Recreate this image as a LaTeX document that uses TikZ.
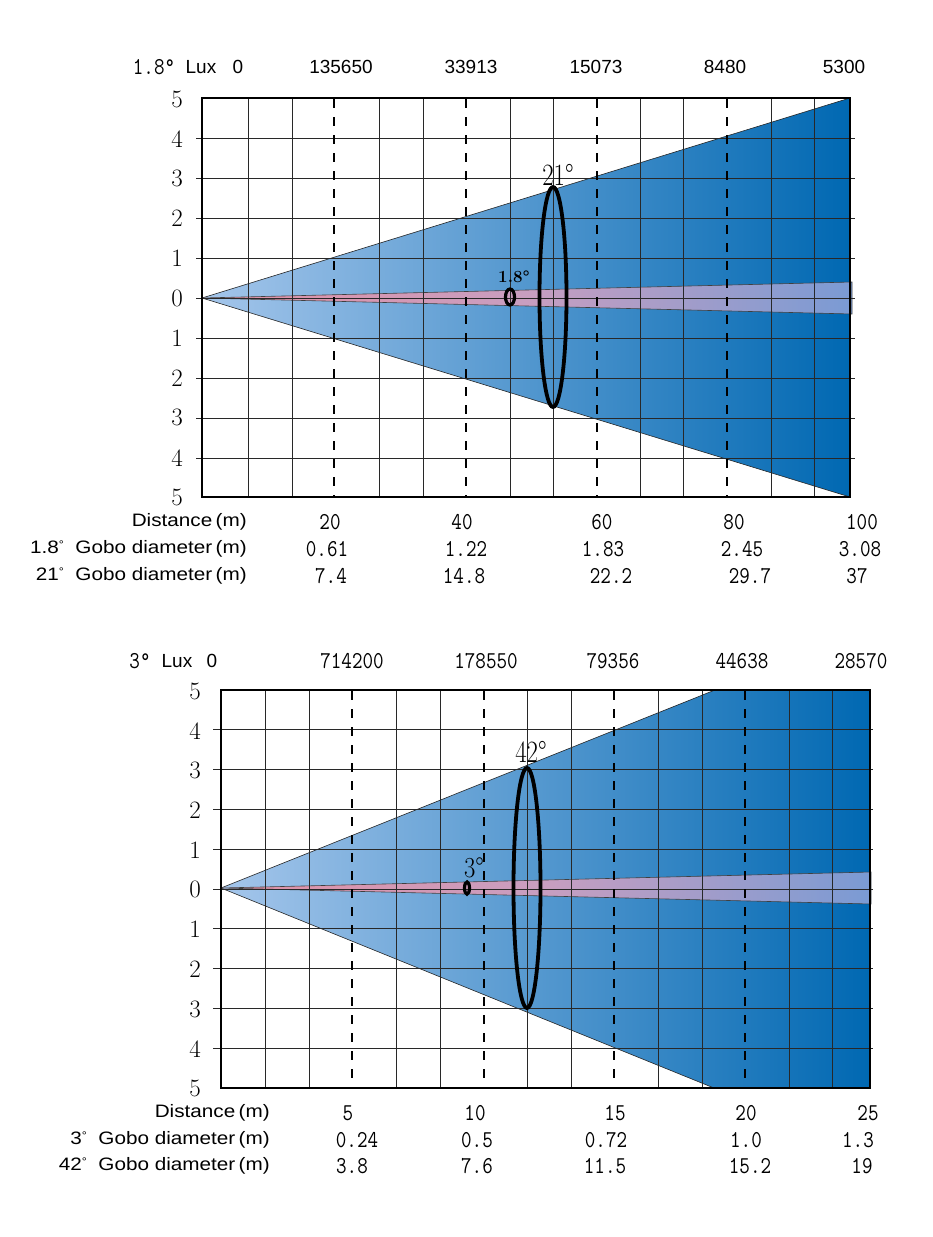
\documentclass[tikz,border=0pt]{standalone}
\usepackage{fontspec}
\newfontfamily\arial{Liberation Sans}
\definecolor{coneL}{RGB}{165,198,235}
\definecolor{coneR}{RGB}{0,104,178}
\definecolor{beamL}{RGB}{226,145,165}
\definecolor{beamM}{RGB}{200,158,192}
\definecolor{beamR}{RGB}{122,155,212}
\definecolor{gridc}{RGB}{40,40,40}
\newcommand\tallmono[1]{\scalebox{1}[1.18]{#1}}
\newcommand\widesans[1]{\scalebox{1.15}[1]{#1}}
\newcommand\smdeg{{\fontsize{11}{11}\selectfont\raisebox{0.5em}{°}}}
\begin{document}
\begin{tikzpicture}[x=1pt,y=-1pt,
  gridln/.style={line width=0.7pt, draw=gridc},
  dashln/.style={line width=2.9pt, draw=black, dash pattern=on 9pt off 9pt},
  frame/.style={line width=2.6pt, draw=black},
  gobo/.style={line width=3.8pt, draw=black},
  coneedge/.style={line width=0.6pt, draw=black!85},
  ylab/.style={font=\fontsize{25}{25}\selectfont, inner sep=0pt},
  sanslab/.style={font=\arial\fontsize{18}{18}\selectfont, inner sep=0pt},
  luxsans/.style={font=\arial\fontsize{19}{19}\selectfont, inner sep=0pt},
  mono/.style={font=\fontsize{20.5}{20.5}\selectfont\ttfamily, inner sep=0pt},
  anglab/.style={font=\fontsize{31}{31}\selectfont, inner sep=0pt},
  beam/.style={left color=beamL, right color=beamR, middle color=beamM, draw=black!75, line width=0.6pt}
]
\useasboundingbox (0,0) rectangle (932,1237);
\fill[white] (0,0) rectangle (932,1237);

% ================= CHART 1 =================
\coordinate (A1) at (202,298);
\coordinate (T1) at (850,98);
\coordinate (B1) at (850,497);
\shade[left color=coneL, right color=coneR] (A1) -- (T1) -- (B1) -- cycle;
\draw[coneedge] (A1) -- (T1);
\draw[coneedge] (A1) -- (B1);
\coordinate (BT1) at (852,282);
\coordinate (BB1) at (852,314);
\shadedraw[beam] (A1) -- (BT1) -- (BB1) -- cycle;

\foreach \x in {248,292,379,423,510,553,640,683,771,814}
  \draw[gridln] (\x,98) -- (\x,497);
\foreach \y in {138,178,218,258,298,338,378,418,458}
  \draw[gridln] (196,\y) -- (855,\y);
\foreach \x in {334,466,597,727}
  \draw[dashln] (\x,99) -- (\x,497);
\draw[frame] (202,98) rectangle (850,497);

\draw[gobo] (553,297) ellipse [x radius=13.5, y radius=110];
\draw[gobo, line width=3.2pt] (510,297) ellipse [x radius=4.5, y radius=8];
\node[anglab] (a21) at (558,175) {\scalebox{0.8}[1]{21°}};
\node[font=\fontsize{17}{17}\selectfont\bfseries, inner sep=0pt] (a18) at (514,277) {1.8°};

\foreach \t [count=\i from 0] in {5,4,3,2,1,0,1,2,3,4,5}
  \node[ylab] (y1\i) at (177,{99+39.85*\i}) {\t};

% lux row
\node[mono] (l1a) at (154,67) {\tallmono{1.8°}};
\node[luxsans] (l1b) at (201,67) {Lux};
\node[luxsans] (l1c) at (238,67) {0};
\foreach \x/\t [count=\i] in {341/135650,471/33913,596/15073,725/8480,844/5300}
  \node[luxsans] (l1n\i) at (\x,67) {\t};

% table rows
\node[sanslab, anchor=east] (r1a) at (247,522) {\widesans{Distance\,(m)}};
\node[sanslab, anchor=east] (r1b) at (247,549) {\widesans{1.8\smdeg\ \ Gobo diameter\,(m)}};
\node[sanslab, anchor=east] (r1c) at (247,576) {\widesans{21\smdeg\ \ Gobo diameter\,(m)}};
\foreach \x/\t [count=\i] in {330/20,462/40,602/60,734/80,862/100}
  \node[mono] (d1a\i) at (\x,522) {\tallmono{\t}};
\foreach \x/\t [count=\i] in {327/0.61,466/1.22,603/1.83,742/2.45,860/3.08}
  \node[mono] (d1b\i) at (\x,549) {\tallmono{\t}};
\foreach \x/\t [count=\i] in {331/7.4,464/14.8,611/22.2,750/29.7,857/37}
  \node[mono] (d1c\i) at (\x,576) {\tallmono{\t}};

% ================= CHART 2 =================
\coordinate (A2) at (221,888);
\coordinate (T2) at (715,690);
\coordinate (B2) at (714,1088);
\shade[left color=coneL, right color=coneR] (A2) -- (T2) -- (870,690) -- (870,1088) -- (B2) -- cycle;
\draw[coneedge] (A2) -- (T2);
\draw[coneedge] (A2) -- (B2);
\coordinate (BT2) at (871,872);
\coordinate (BB2) at (871,904);
\shadedraw[beam] (A2) -- (BT2) -- (BB2) -- cycle;

\foreach \x in {265,309,396,440,527,571,658,702,789,832}
  \draw[gridln] (\x,690) -- (\x,1088);
\foreach \i in {1,...,9}
  \draw[gridln] (213,{690+39.8*\i}) -- (873,{690+39.8*\i});
\foreach \x in {352,484,614,745}
  \draw[dashln] (\x,691) -- (\x,1088);
\draw[frame] (221,690) rectangle (870,1088);

\draw[gobo] (527,888) ellipse [x radius=13.5, y radius=120];
\draw[gobo, line width=3.2pt] (467,888) ellipse [x radius=2.5, y radius=6];
\node[anglab] (a42) at (531,752) {\scalebox{0.8}[1]{42°}};
\node[font=\fontsize{29}{29}\selectfont, inner sep=0pt] (a3) at (474,868) {\scalebox{0.85}[1]{3°}};

\foreach \t [count=\i from 0] in {5,4,3,2,1,0,1,2,3,4,5}
  \node[ylab] (y2\i) at (195,{691+39.75*\i}) {\t};

% lux row
\node[mono] (l2a) at (140,661) {\tallmono{3°}};
\node[luxsans] (l2b) at (177,661) {Lux};
\node[luxsans] (l2c) at (212,661) {0};
\foreach \x/\t [count=\i] in {352/714200,486/178550,613/79356,742/44638,861/28570}
  \node[mono] (l2n\i) at (\x,661) {\tallmono{\t}};

% table rows
\node[sanslab, anchor=east] (r2a) at (270,1113) {\widesans{Distance\,(m)}};
\node[sanslab, anchor=east] (r2b) at (270,1140) {\widesans{3\smdeg\ \ Gobo diameter\,(m)}};
\node[sanslab, anchor=east] (r2c) at (270,1166) {\widesans{42\smdeg\ \ Gobo diameter\,(m)}};
\foreach \x/\t [count=\i] in {348/5,475/10,615/15,746/20,868/25}
  \node[mono] (d2a\i) at (\x,1113) {\tallmono{\t}};
\foreach \x/\t [count=\i] in {357/0.24,477/0.5,606/0.72,746/1.0,858/1.3}
  \node[mono] (d2b\i) at (\x,1140) {\tallmono{\t}};
\foreach \x/\t [count=\i] in {352/3.8,477/7.6,605/11.5,750/15.2,862/19}
  \node[mono] (d2c\i) at (\x,1166) {\tallmono{\t}};
\end{tikzpicture}
\end{document}
